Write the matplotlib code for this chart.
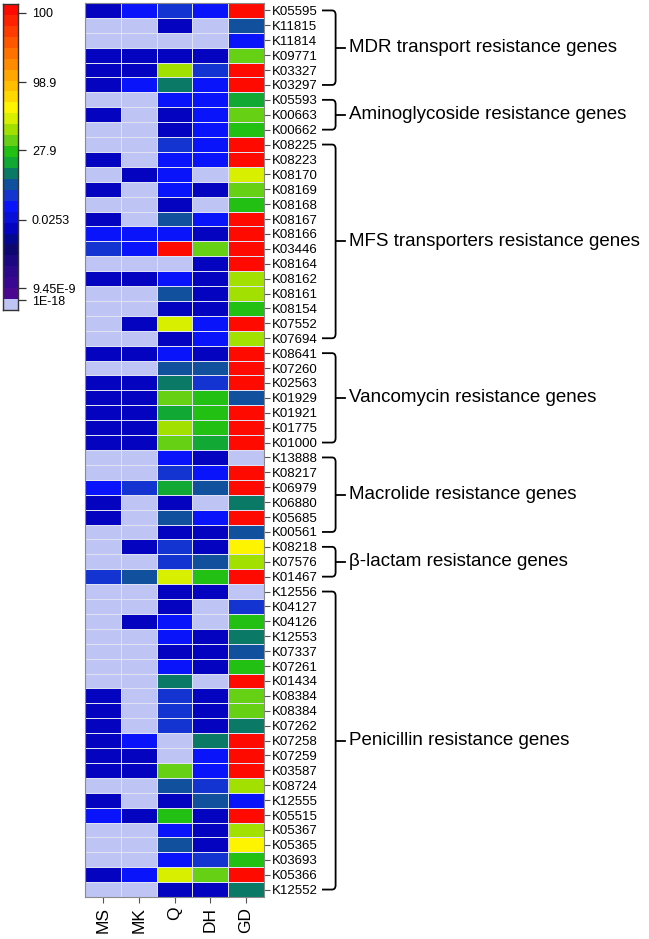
import numpy as np
import matplotlib
matplotlib.use("Agg")
import matplotlib.pyplot as plt
from matplotlib.colors import ListedColormap, BoundaryNorm
from matplotlib.path import Path
from matplotlib.patches import PathPatch

plt.rcParams['font.family'] = ['Liberation Sans', 'DejaVu Sans']

# --- data: colour level of each cell (0 = 1E-18 ... 27 = 100) ---
samples = ["MS", "MK", "Q", "DH", "GD"]
genes = ["K05595", "K11815", "K11814", "K09771", "K03327", "K03297",
         "K05593", "K00663", "K00662",
         "K08225", "K08223", "K08170", "K08169", "K08168", "K08167", "K08166",
         "K03446", "K08164", "K08162", "K08161", "K08154", "K07552", "K07694",
         "K08641", "K07260", "K02563", "K01929", "K01921", "K01775", "K01000",
         "K13888", "K08217", "K06979", "K06880", "K05685", "K00561",
         "K08218", "K07576", "K01467",
         "K12556", "K04127", "K04126", "K12553", "K07337", "K07261", "K01434",
         "K08384", "K08384", "K07262", "K07258", "K07259", "K03587", "K08724",
         "K12555", "K05515", "K05367", "K05365", "K03693", "K05366", "K12552"]

ms = [7, 0, 0, 7, 7, 7,
      0, 7, 0,
      0, 7, 0, 7, 0, 7, 9, 10, 0, 7, 0, 0, 0, 0,
      7, 0, 7, 7, 7, 7, 7,
      0, 0, 9, 7, 7, 0,
      0, 0, 10,
      0, 0, 0, 0, 0, 0, 0, 7, 7, 7, 7, 7, 7, 0, 7, 9, 0, 0, 0, 7, 0]
mk = [9, 0, 0, 7, 7, 9,
      0, 0, 0,
      0, 0, 7, 0, 0, 0, 9, 9, 0, 7, 0, 0, 7, 0,
      7, 0, 7, 7, 7, 7, 7,
      0, 0, 10, 0, 0, 0,
      7, 0, 11,
      0, 0, 7, 0, 0, 0, 0, 0, 0, 0, 9, 7, 7, 0, 0, 7, 0, 0, 0, 9, 0]
q = [10, 7, 0, 7, 16, 12,
     9, 7, 7,
     10, 9, 9, 9, 7, 11, 9, 27, 0, 9, 11, 7, 17, 7,
     9, 11, 12, 15, 13, 16, 15,
     9, 10, 13, 7, 11, 7,
     10, 10, 17,
     7, 7, 9, 9, 7, 9, 12, 10, 10, 10, 0, 0, 15, 11, 7, 14, 9, 11, 9, 17, 7]
dh = [9, 0, 0, 7, 10, 9,
      9, 9, 9,
      9, 9, 0, 7, 0, 9, 7, 15, 7, 7, 7, 7, 9, 9,
      7, 11, 10, 14, 14, 14, 13,
      7, 9, 11, 0, 9, 7,
      7, 11, 14,
      7, 0, 0, 7, 7, 7, 0, 7, 7, 7, 12, 9, 9, 10, 11, 7, 7, 7, 10, 15, 7]
gd = [27, 11, 9, 15, 27, 27,
      13, 15, 14,
      27, 27, 17, 15, 14, 27, 27, 27, 27, 16, 16, 14, 27, 16,
      27, 27, 27, 11, 27, 27, 27,
      0, 27, 27, 12, 27, 11,
      18, 16, 27,
      0, 10, 14, 12, 11, 14, 27, 15, 15, 12, 27, 27, 27, 16, 9, 27, 16, 18, 14, 27, 12]

groups = ["MDR transport resistance genes", "Aminoglycoside resistance genes",
          "MFS transporters resistance genes", "Vancomycin resistance genes",
          "Macrolide resistance genes", "\u03b2-lactam resistance genes",
          "Penicillin resistance genes"]
group_sizes = [6, 3, 14, 7, 6, 3, 21]

cbar_labels = ["1E-18", "9.45E-9", "0.0253", "27.9", "98.9", "100"]
cbar_label_levels = [0.9, 2.0, 8.25, 14.6, 20.85, 27.2]

palette = ['#bec5f5', '#4a0890', '#3a0890', '#2c088a', '#1c0880', '#0c0870',
           '#04088e', '#0404c0', '#0810d8', '#0a14fa', '#1434d2', '#10509c',
           '#0a7a66', '#12a834', '#22c012', '#66d014', '#a2e002', '#d8f000',
           '#fff400', '#ffd800', '#ffbe00', '#ffa600', '#ff8c00', '#ff7200',
           '#ff5600', '#ff3c00', '#ff2200', '#ff0a00']
cmap = ListedColormap(palette)
norm = BoundaryNorm(np.arange(len(palette) + 1) - 0.5, len(palette))

W, H = 649, 939
fig = plt.figure(figsize=(W / 100, H / 100), dpi=100)

# --- heatmap ---
ax = fig.add_axes([85 / W, (H - 897) / H, 179 / W, 894 / H])
mat = np.array([ms, mk, q, dh, gd]).T
ax.pcolormesh(np.arange(len(samples) + 1), np.arange(len(genes) + 1), mat,
              cmap=cmap, norm=norm, edgecolors='#dfe2f2', linewidth=0.6)
ax.set_xlim(0, len(samples))
ax.set_ylim(len(genes), 0)
ax.set_xticks(np.arange(len(samples)) + 0.5)
ax.set_xticklabels(samples, rotation=90, fontsize=12.5)
ax.set_yticks(np.arange(len(genes)) + 0.5)
ax.set_yticklabels(genes, fontsize=9.5)
ax.yaxis.tick_right()
ax.tick_params(axis='y', length=4, width=0.8, pad=2, color='#555555')
ax.tick_params(axis='x', length=4, width=0.8, pad=3, color='#555555')
for s in ax.spines.values():
    s.set_color('#8a8a8a')
    s.set_linewidth(0.8)

# --- braces with group labels ---
xv, xh, xt = 7.0, 6.62, 7.25
r = 0.3
start = 0
for name, n in zip(groups, group_sizes):
    y0 = start + 0.5
    y1 = start + n - 0.5
    ym = (y0 + y1) / 2
    verts = [(xh, y0), (xv - 0.1, y0), (xv, y0), (xv, y0 + r),
             (xv, y1 - r), (xv, y1), (xv - 0.1, y1), (xh, y1)]
    codes = [Path.MOVETO, Path.LINETO, Path.CURVE3, Path.CURVE3,
             Path.LINETO, Path.CURVE3, Path.CURVE3, Path.LINETO]
    ax.add_patch(PathPatch(Path(verts, codes), fill=False, lw=1.3,
                           edgecolor='black', clip_on=False))
    ax.plot([xv, xt], [ym, ym], color='black', lw=1.3, clip_on=False)
    ax.text(xt + 0.12, ym, name, fontsize=13.5, va='center', ha='left')
    start += n

# --- colour key ---
cax = fig.add_axes([3 / W, (H - 310) / H, 15 / W, 306 / H])
cax.imshow(np.arange(len(palette)).reshape(-1, 1), cmap=cmap, norm=norm,
           origin='lower', aspect='auto', extent=[0, 1, 0, len(palette)])
cax.set_xticks([])
cax.yaxis.tick_right()
cax.set_yticks(cbar_label_levels)
cax.set_yticklabels(cbar_labels, fontsize=9)
cax.tick_params(axis='y', length=6, width=0.9, pad=4, color='#333333')
for s in cax.spines.values():
    s.set_color('#333333')
    s.set_linewidth(1.0)

fig.savefig("out.png", dpi=100)
